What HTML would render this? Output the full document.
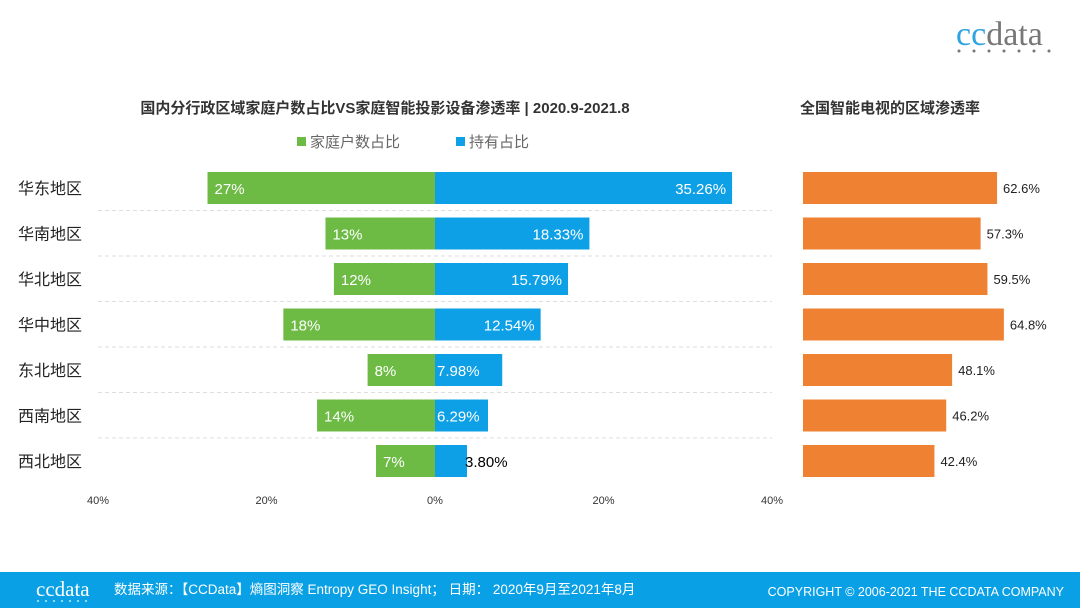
<!DOCTYPE html>
<html><head><meta charset="utf-8"><style>
body{margin:0;width:1080px;height:608px;overflow:hidden;background:#fff;font-family:"Liberation Sans","Noto Sans CJK SC",sans-serif}
</style></head><body>
<svg id="c" width="1080" height="608" xmlns="http://www.w3.org/2000/svg">
<g>
<text x="956" y="45" font-family="Liberation Serif,serif" font-size="34" fill="#2ea3e0">cc<tspan fill="#777">data</tspan></text>
<g fill="#777"><circle cx="959" cy="51" r="1.5"/><circle cx="974" cy="51" r="1.5"/><circle cx="989" cy="51" r="1.5"/><circle cx="1004" cy="51" r="1.5"/><circle cx="1019" cy="51" r="1.5"/><circle cx="1034" cy="51" r="1.5"/><circle cx="1049" cy="51" r="1.5"/></g>
</g>
<text x="385" y="113" text-anchor="middle" font-size="15" font-weight="bold" fill="#333">国内分行政区域家庭户数占比VS家庭智能投影设备渗透率 | 2020.9-2021.8</text>
<text x="890" y="113" text-anchor="middle" font-size="15" font-weight="bold" fill="#333">全国智能电视的区域渗透率</text>
<g>
<rect x="297" y="137" width="9" height="9" fill="#6dbb45"/>
<text x="310" y="147" font-size="15" fill="#666">家庭户数占比</text>
<rect x="456" y="137" width="9" height="9" fill="#0ea0e6"/>
<text x="469" y="147" font-size="15" fill="#666">持有占比</text>
</g>
<g id="plot"></g>
<rect x="0" y="572" width="1080" height="36" fill="#0aa0e6"/>
<text x="36" y="596" font-family="Liberation Serif,serif" font-size="21" fill="#fff">ccdata</text>
<g fill="#fff"><circle cx="38" cy="601" r="0.9"/><circle cx="46" cy="601" r="0.9"/><circle cx="54" cy="601" r="0.9"/><circle cx="62" cy="601" r="0.9"/><circle cx="70" cy="601" r="0.9"/><circle cx="78" cy="601" r="0.9"/><circle cx="86" cy="601" r="0.9"/></g>
<text x="114" y="594" font-size="13.5" fill="#fff">数据来源：【CCData】熵图洞察 Entropy GEO Insight； 日期： 2020年9月至2021年8月</text>
<text x="1064" y="596" text-anchor="end" font-size="12.5" fill="#fff">COPYRIGHT © 2006-2021  THE CCDATA COMPANY</text>
</svg>
<script>
const regions=["华东地区","华南地区","华北地区","华中地区","东北地区","西南地区","西北地区"];
const household=[27,13,12,18,8,14,7];
const householdLabels=["27%","13%","12%","18%","8%","14%","7%"];
const holding=[35.26,18.33,15.79,12.54,7.98,6.29,3.80];
const tvRate=[62.6,57.3,59.5,64.8,48.1,46.2,42.4];
const ticks=[-40,-20,0,20,40];
const tickLabels=["40%","20%","0%","20%","40%"];
const NS="http://www.w3.org/2000/svg";
const g=document.getElementById('plot');
const x0=435,k=337/40;
const xs=v=>x0+v*k;
const yc=i=>188+i*45.5;
const xr=v=>803+v*3.1;
function el(t,a){const e=document.createElementNS(NS,t);for(const n in a)e.setAttribute(n,a[n]);g.appendChild(e);return e;}
for(let i=0;i<regions.length-1;i++){
 const l=el('line',{x1:98,x2:772,y1:yc(i)+22.5,y2:yc(i)+22.5,stroke:'#ddd','stroke-dasharray':'4,3'});
 
 
}
regions.forEach((r,i)=>{
 const y=yc(i);
 const t=el('text',{x:18,y:y+6,'font-size':16,fill:'#222'});t.textContent=r;
 
 
 const b1=el('rect',{x:xs(-household[i]),y:y-16,width:xs(0)-xs(-household[i]),height:32,fill:'#6dbb45'});
 
 
 const t1=el('text',{x:xs(-household[i])+7,y:y+6,'font-size':15,fill:'#fff'});t1.textContent=householdLabels[i];
 
 
 const b2=el('rect',{x:x0,y:y-16,width:xs(holding[i])-x0,height:32,fill:'#0ea0e6'});
 
 
 const lab=holding[i].toFixed(2)+'%';
 const inside=holding[i]>5;
 const t2=el('text',{x:inside?xs(holding[i])-6:xs(holding[i])-2,y:y+6,'font-size':15,fill:inside?'#fff':'#000','text-anchor':inside?'end':'start'});
 if(inside&&holding[i]<9){t2.setAttribute('x',x0+2);t2.setAttribute('text-anchor','start');}
 t2.textContent=lab;
 
 
 const b3=el('rect',{x:803,y:y-16,width:xr(tvRate[i])-803,height:32,fill:'#ee8132'});
 
 
 const t3=el('text',{x:xr(tvRate[i])+6,y:y+5,'font-size':13,fill:'#222'});t3.textContent=tvRate[i].toFixed(1)+'%';
 
 
});
ticks.forEach((v,i)=>{
 const t=el('text',{x:xs(v),y:504,'font-size':11,fill:'#333','text-anchor':'middle'});t.textContent=tickLabels[i];
 
 
});
</script>
</body></html>
